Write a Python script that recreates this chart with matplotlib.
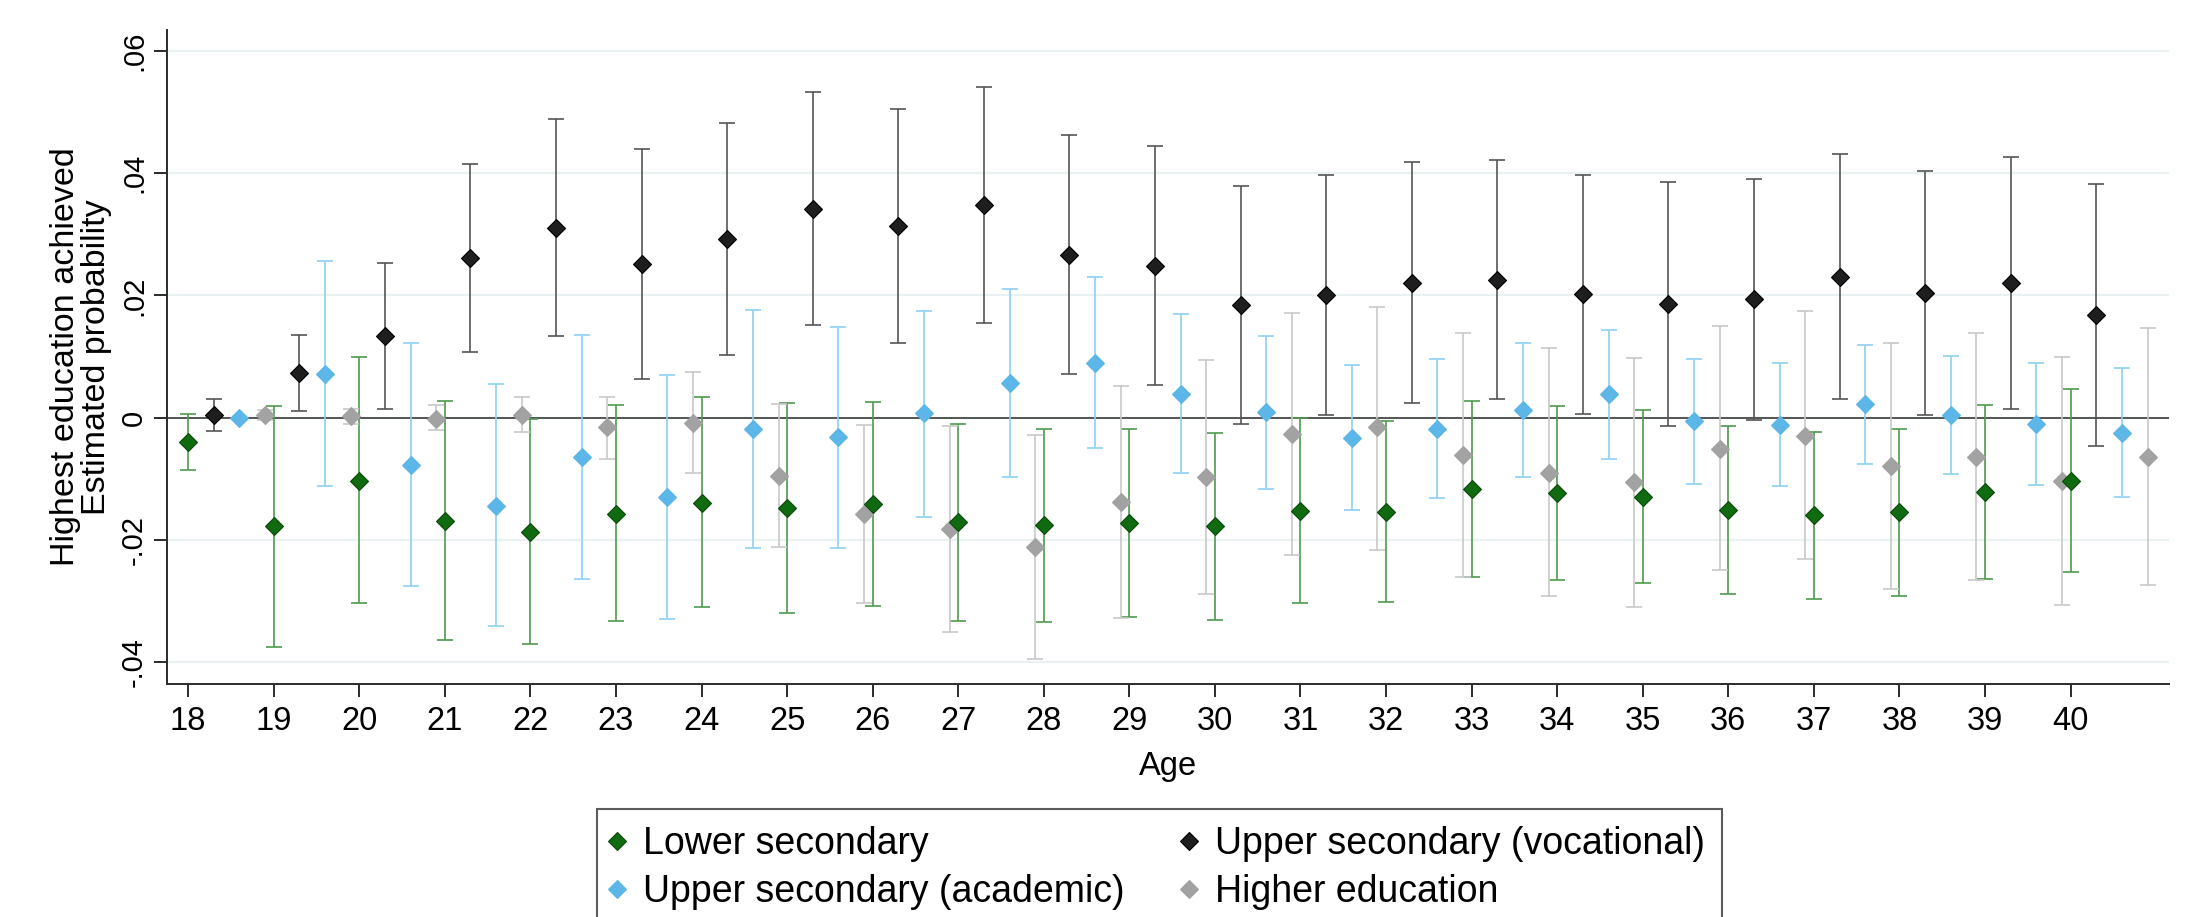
#!/usr/bin/env python3
# -*- coding: utf-8 -*-
"""
Coefficient plot: estimated probability of highest education achieved by age.

Four education levels, drawn side by side at each age with their confidence
intervals, in the style of a Stata coefplot.
"""

import matplotlib
matplotlib.use("Agg")
import matplotlib.pyplot as plt
from matplotlib.lines import Line2D
from matplotlib.ticker import FixedLocator, FuncFormatter

plt.rcParams['font.family'] = ['Liberation Sans', 'DejaVu Sans']

# =============================================================================
# Data
# =============================================================================
ages = list(range(18, 41))

lower_pt = [-0.0040, -0.0178, -0.0103, -0.0169, -0.0187, -0.0157, -0.0139,
            -0.0148, -0.0141, -0.0171, -0.0176, -0.0172, -0.0178, -0.0152,
            -0.0154, -0.0117, -0.0124, -0.0130, -0.0151, -0.0159, -0.0155,
            -0.0122, -0.0103]
lower_lo = [-0.0086, -0.0375, -0.0303, -0.0363, -0.0370, -0.0333, -0.0310,
            -0.0319, -0.0308, -0.0333, -0.0334, -0.0326, -0.0331, -0.0303,
            -0.0302, -0.0260, -0.0266, -0.0270, -0.0288, -0.0296, -0.0291,
            -0.0264, -0.0253]
lower_hi = [0.0006, 0.0019, 0.0099, 0.0027, -0.0002, 0.0020, 0.0034,
            0.0024, 0.0026, -0.0010, -0.0018, -0.0018, -0.0025, -0.0001,
            -0.0006, 0.0028, 0.0019, 0.0012, -0.0013, -0.0023, -0.0018,
            0.0021, 0.0047]

voc_pt = [0.0004, 0.0073, 0.0134, 0.0261, 0.0311, 0.0252, 0.0292, 0.0342,
          0.0313, 0.0348, 0.0266, 0.0249, 0.0184, 0.0200, 0.0220, 0.0226,
          0.0202, 0.0186, 0.0194, 0.0231, 0.0204, 0.0220, 0.0168]
voc_lo = [-0.0021, 0.0011, 0.0014, 0.0108, 0.0134, 0.0064, 0.0103, 0.0152,
          0.0122, 0.0155, 0.0072, 0.0054, -0.0011, 0.0004, 0.0024, 0.0030,
          0.0006, -0.0014, -0.0004, 0.0031, 0.0004, 0.0015, -0.0047]
voc_hi = [0.0031, 0.0136, 0.0254, 0.0415, 0.0489, 0.0439, 0.0482, 0.0533,
          0.0506, 0.0541, 0.0462, 0.0445, 0.0380, 0.0397, 0.0418, 0.0422,
          0.0398, 0.0385, 0.0391, 0.0431, 0.0404, 0.0426, 0.0382]

acad_pt = [0.0, 0.0071, -0.0078, -0.0144, -0.0064, -0.0130, -0.0019,
           -0.0032, 0.0007, 0.0057, 0.0090, 0.0039, 0.0009, -0.0033,
           -0.0019, 0.0013, 0.0039, -0.0006, -0.0012, 0.0022, 0.0004,
           -0.0010, -0.0025]
acad_lo = [0.0, -0.0112, -0.0276, -0.0341, -0.0264, -0.0330, -0.0213,
           -0.0214, -0.0162, -0.0097, -0.0049, -0.0091, -0.0116, -0.0151,
           -0.0132, -0.0097, -0.0068, -0.0108, -0.0112, -0.0075, -0.0092,
           -0.0110, -0.0130]
acad_hi = [0.0, 0.0256, 0.0123, 0.0055, 0.0136, 0.0070, 0.0177, 0.0149,
           0.0175, 0.0211, 0.0230, 0.0170, 0.0133, 0.0086, 0.0096, 0.0122,
           0.0144, 0.0096, 0.0089, 0.0119, 0.0101, 0.0089, 0.0081]

high_pt = [0.0004, 0.0003, -0.0002, 0.0004, -0.0016, -0.0008, -0.0095,
           -0.0157, -0.0182, -0.0212, -0.0138, -0.0097, -0.0026, -0.0016,
           -0.0061, -0.0090, -0.0106, -0.0051, -0.0030, -0.0079, -0.0064,
           -0.0104, -0.0065]
high_lo = [-0.0004, -0.0010, -0.0020, -0.0024, -0.0067, -0.0091, -0.0211,
           -0.0304, -0.0350, -0.0395, -0.0327, -0.0289, -0.0224, -0.0216,
           -0.0260, -0.0291, -0.0310, -0.0250, -0.0231, -0.0280, -0.0265,
           -0.0307, -0.0274]
high_hi = [0.0012, 0.0015, 0.0020, 0.0034, 0.0034, 0.0074, 0.0022, -0.0012,
           -0.0013, -0.0028, 0.0052, 0.0095, 0.0172, 0.0181, 0.0139, 0.0114,
           0.0098, 0.0150, 0.0174, 0.0123, 0.0138, 0.0099, 0.0146]

y_ticks = [-0.04, -0.02, 0.0, 0.02, 0.04, 0.06]

# label, estimates, lower, upper, offset, marker colour, edge colour, CI colour
series = [
    ("Lower secondary", lower_pt, lower_lo, lower_hi, 0.0,
     "#106a10", "#0a4a0a", "#4f9a4f"),
    ("Upper secondary (vocational)", voc_pt, voc_lo, voc_hi, 0.3,
     "#1e1e1e", "#000000", "#555555"),
    ("Upper secondary (academic)", acad_pt, acad_lo, acad_hi, 0.6,
     "#5cb6e8", "#5cb6e8", "#8ed0f2"),
    ("Higher education", high_pt, high_lo, high_hi, 0.9,
     "#a2a2a2", "#a2a2a2", "#c8c8c8"),
]


def stata_fmt(val: float, _pos=None) -> str:
    """Format tick like Stata: .02, -.04, 0."""
    if abs(val) < 1e-12:
        return "0"
    txt = f"{val:.2f}".rstrip("0")
    return txt.replace("0.", ".")


# =============================================================================
# Figure
# =============================================================================
W, H = 2196, 917
fig = plt.figure(figsize=(W / 100, H / 100), dpi=100)
fig.patch.set_facecolor("white")

left, right, top, bottom = 166.7, 2169, 30, 684
ax = fig.add_axes([left / W, 1 - bottom / H, (right - left) / W,
                   (bottom - top) / H])

ax.set_xlim(17.75, 41.15)
ax.set_ylim(-0.04358, 0.06345)

for yv in y_ticks:
    ax.axhline(yv, color="#e9f1f3", lw=1.6, zorder=0)
ax.axhline(0, color="#2b2b2b", lw=1.1, zorder=1.5)

for label, pt, lo, hi, off, mcol, ecol, ccol in series:
    xs = [a + off for a in ages]
    yerr = [[p - l for p, l in zip(pt, lo)], [h - p for p, h in zip(pt, hi)]]
    ax.errorbar(xs, pt, yerr=yerr, fmt="none", ecolor=ccol, elinewidth=1.2,
                capsize=5.8, capthick=1.2, zorder=2)

# draw markers so that green ends on top of the grey ones
for label, pt, lo, hi, off, mcol, ecol, ccol in series[::-1]:
    xs = [a + off for a in ages]
    ax.plot(xs, pt, ls="none", marker="D", ms=9.5, mfc=mcol, mec=ecol,
            mew=0.8, zorder=3)

for side in ("top", "right"):
    ax.spines[side].set_visible(False)
for side in ("left", "bottom"):
    ax.spines[side].set_color("#2b2b2b")
    ax.spines[side].set_linewidth(1.4)

ax.xaxis.set_major_locator(FixedLocator(ages))
ax.yaxis.set_major_locator(FixedLocator(y_ticks))
ax.yaxis.set_major_formatter(FuncFormatter(stata_fmt))
ax.tick_params(axis="both", direction="out", length=9.4, width=1.4,
               color="#2b2b2b")
ax.tick_params(axis="x", labelsize=23.5, pad=6.5)
ax.tick_params(axis="y", labelsize=21, pad=4, labelrotation=90)
for lab in ax.get_yticklabels():
    lab.set_va("center")

ax.set_xlabel("Age", fontsize=23.5, labelpad=10)
ax.set_ylabel("Highest education achieved\nEstimated probability",
              fontsize=24.5, labelpad=6, linespacing=1.0)

handles = [Line2D([], [], ls="none", marker="D", ms=9.0, mfc=s[5], mec=s[6],
                  mew=0.8) for s in series]
labels = [s[0] for s in series]
# order so rows read: lower / vocational, academic / higher
order = [0, 2, 1, 3]
leg = fig.legend([handles[i] for i in order], [labels[i] for i in order],
                 loc="upper left", bbox_to_anchor=(596.7 / W, 1 - 809 / H),
                 ncol=2, fontsize=27, frameon=True, fancybox=False,
                 borderpad=0.45, handlelength=0.18, handletextpad=0.6,
                 columnspacing=1.64, labelspacing=0.32, borderaxespad=0)
leg.get_frame().set_edgecolor("#333333")
leg.get_frame().set_linewidth(1.5)

fig.savefig("out.png", dpi=100, facecolor="white")
